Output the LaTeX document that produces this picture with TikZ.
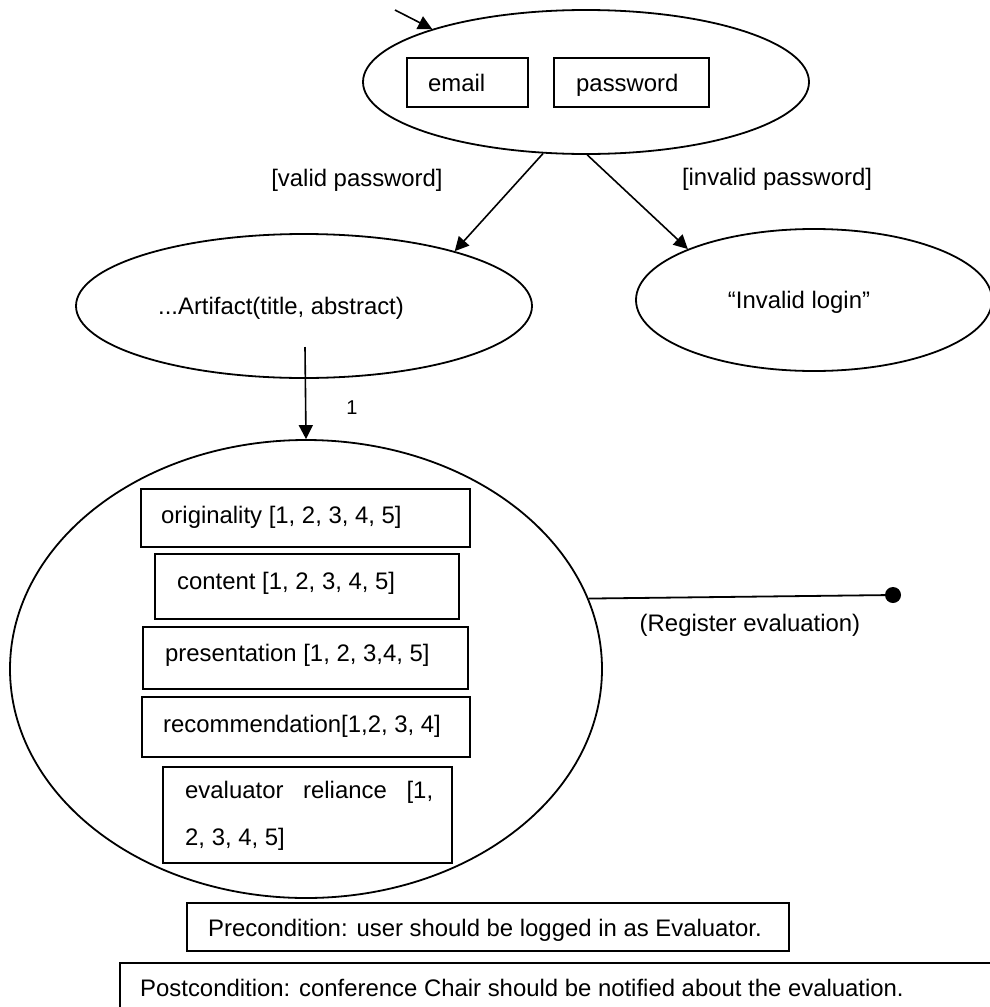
\documentclass[tikz,border=0pt]{standalone}
\usepackage{fontspec}
\setmainfont{Liberation Sans}
\usetikzlibrary{shapes.geometric,arrows.meta}
\begin{document}
\begin{tikzpicture}[x=1pt,y=-1pt,
  every node/.style={font=\fontsize{23.9}{28}\selectfont},
  oval/.style={draw, ellipse, line width=1.8pt, inner sep=0pt},
  box/.style={draw, rectangle, line width=1.8pt, inner sep=0pt},
  txt/.style={inner sep=0pt},
  arr/.style={line width=1.6pt, -{Triangle[width=14pt,length=14pt]}},
  plainline/.style={line width=1.8pt}
  ]
\useasboundingbox (0,0) rectangle (990,1007);
\clip (0,0) rectangle (990,1007);

% login state
\node[oval, minimum width=446pt, minimum height=144pt] (login) at (586,82) {};
\node[box, minimum width=121pt, minimum height=49pt] (email) at (467.5,82.5) {};
\node[txt, anchor=base west] (emailt) at (428,91) {email};
\node[box, minimum width=155pt, minimum height=49pt] (pwd) at (631.5,82.5) {};
\node[txt, anchor=base west] (pwdt) at (576,91) {password};
\coordinate (start) at (395,10);
\draw[arr] (start) -- (login.161);

% guards
\node[txt, anchor=base] (valid) at (357,186) {[valid password]};
\node[txt, anchor=base] (invalid) at (777,185) {[invalid password]};

% artifact and invalid
\node[oval, minimum width=456pt, minimum height=144pt] (art) at (304,306) {};
\node[txt, anchor=base] (artt) at (281,314) {...Artifact(title, abstract)};
\node[oval, minimum width=356pt, minimum height=142pt] (inv) at (814,300) {};
\node[txt, anchor=base] (invt) at (799,308) {“Invalid login”};
\draw[arr] (login.239) -- (art.20.5);
\draw[arr] (login.271.6) -- (inv.158);

% evaluation state
\node[oval, minimum width=592pt, minimum height=458pt] (big) at (306,669) {};
\coordinate (vstart) at (305,347);
\draw[arr] (vstart) -- (big.north);
\node[txt, anchor=base, font=\fontsize{20}{24}\selectfont] (one) at (352,414) {1};

\node[box, minimum width=329pt, minimum height=58pt] (orig) at (305.5,518) {};
\node[txt, anchor=base west] (origt) at (161,523) {originality [1, 2, 3, 4, 5]};
\node[box, minimum width=304pt, minimum height=65pt] (cont) at (307,586.5) {};
\node[txt, anchor=base west] (contt) at (177,589) {content [1, 2, 3, 4, 5]};
\node[box, minimum width=325pt, minimum height=62pt] (pres) at (305.5,658) {};
\node[txt, anchor=base west] (prest) at (165,661) {presentation [1, 2, 3,4, 5]};
\node[box, minimum width=328pt, minimum height=60pt] (rec) at (306,727) {};
\node[txt, anchor=base west] (rect) at (163,732) {recommendation[1,2, 3, 4]};
\node[box, minimum width=289pt, minimum height=96pt] (eval) at (307.5,815) {};
\node[txt, anchor=base west] (evalt1) at (185,798) {\makebox[248pt][s]{evaluator reliance [1,}};
\node[txt, anchor=base west] (evalt2) at (185,845) {2, 3, 4, 5]};

% register evaluation
\node[circle, fill, inner sep=0pt, minimum size=16pt] (dot) at (893,595) {};
\draw[plainline] (big.14.8) -- (dot.center);
\node[txt, anchor=base] (regt) at (750,631) {(Register evaluation)};

% conditions
\node[box, minimum width=602pt, minimum height=48pt] (pre) at (488,927) {};
\node[txt, anchor=base] (pret) at (485,936) {Precondition: user should be logged in as Evaluator.};
\node[box, minimum width=880pt, minimum height=67pt] (post) at (560,996.5) {};
\node[txt, anchor=base west] (postt) at (140,996) {Postcondition: conference Chair should be notified about the evaluation.};
\end{tikzpicture}
\end{document}
